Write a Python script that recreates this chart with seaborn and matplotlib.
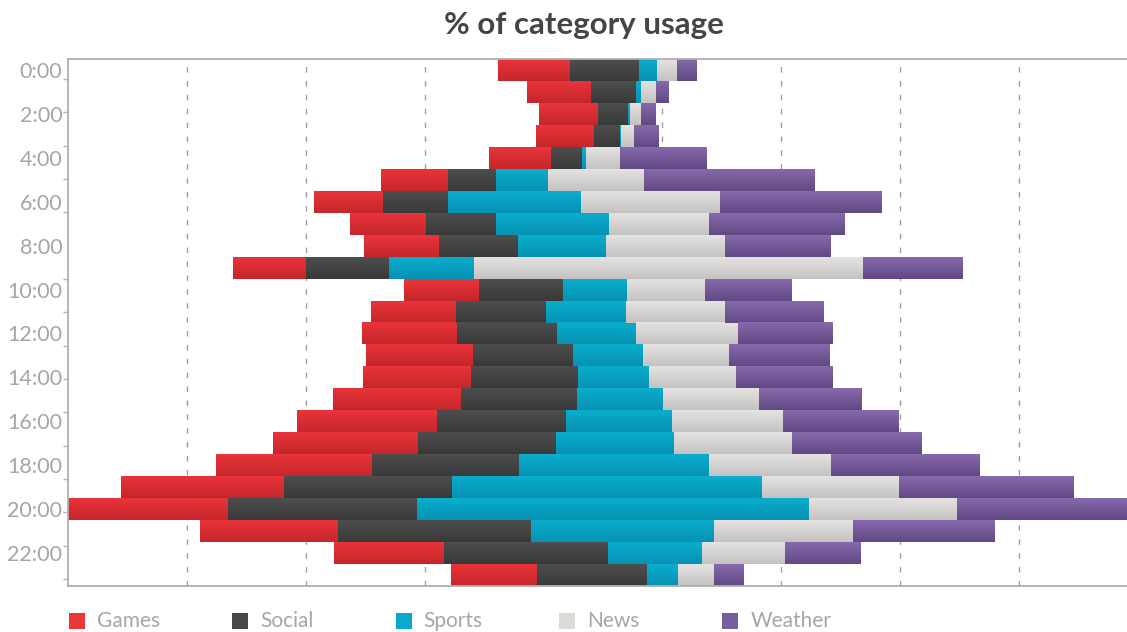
import numpy as np
import pandas as pd
import matplotlib
matplotlib.use("Agg")
import matplotlib.pyplot as plt
import seaborn as sns
from matplotlib.colors import LinearSegmentedColormap
from matplotlib.patches import Rectangle

# Share of each category's daily usage that falls in each hour (%)
hours = [f"{h}:00" for h in range(24)]
categories = ["Games", "Social", "Sports", "News", "Weather"]

games = [3.03, 2.72, 2.44, 2.43, 2.62, 2.84, 2.94, 3.20, 3.15, 3.08, 3.15, 3.57,
         4.00, 4.52, 4.55, 5.39, 5.89, 6.10, 6.59, 6.85, 6.73, 5.80, 4.63, 3.64]
social = [2.90, 1.86, 1.29, 1.11, 1.30, 2.00, 2.73, 2.94, 3.32, 3.49, 3.53, 3.78,
          4.17, 4.21, 4.49, 4.91, 5.39, 5.81, 6.19, 7.06, 7.96, 8.12, 6.89, 4.63]
sports = [0.76, 0.25, 0.09, 0.04, 0.17, 2.18, 5.56, 4.75, 3.71, 3.57, 2.70, 3.36,
          3.36, 2.94, 2.99, 3.58, 4.46, 4.95, 7.99, 13.05, 16.48, 7.69, 3.97, 1.31]
news = [0.88, 0.59, 0.47, 0.57, 1.43, 4.04, 5.88, 4.21, 5.01, 16.36, 3.27, 4.17,
        4.26, 3.62, 3.65, 4.08, 4.67, 4.97, 5.12, 5.75, 6.24, 5.88, 3.49, 1.51]
weather = [0.84, 0.54, 0.59, 1.04, 3.65, 7.16, 6.78, 5.72, 4.44, 4.17, 3.62, 4.15,
           3.99, 4.21, 4.04, 4.33, 4.84, 5.46, 6.24, 7.36, 7.14, 5.97, 3.18, 1.26]

tick_hours = hours[::2]

# Vertical gradient for each series: top shade -> bottom shade
top_colors = ["#e9343a", "#4d4e4e", "#0aadce", "#e4e3e1", "#8769ad"]
bottom_colors = ["#c4262c", "#393939", "#0792b1", "#c4c3c1", "#614982"]
legend_colors = ["#e8383c", "#484848", "#0aa8ca", "#dcdbd8", "#7a5ca0"]

df = pd.DataFrame({"hour": hours, "Games": games, "Social": social,
                   "Sports": sports, "News": news, "Weather": weather})
totals = df[categories].sum(axis=1)
span = totals.max()
# centre every stack on the middle of the axis
offset = (span - totals) / 2

sns.set_theme(style="white")
plt.rcParams["font.family"] = ["Lato", "DejaVu Sans"]

W, H = 1127, 632
fig = plt.figure(figsize=(W / 100, H / 100), dpi=100)
ax = fig.add_axes([68 / W, 1 - 586 / H, 1 - 68 / W, (586 - 59) / H])

left = offset.copy()
for cat, c_top, c_bot in zip(categories, top_colors, bottom_colors):
    sns.barplot(data=df, x=cat, y="hour", order=hours, orient="h",
                left=left.to_numpy(), width=1.0, color=c_top, saturation=1,
                linewidth=0, errorbar=None, ax=ax, zorder=2)
    left = left + df[cat]

# paint a vertical gradient on every bar
grad = np.linspace(0, 1, 64).reshape(-1, 1)
for container, c_top, c_bot in zip(ax.containers, top_colors, bottom_colors):
    cmap = LinearSegmentedColormap.from_list("g", [c_top, c_bot])
    for bar in container:
        x0, y0 = bar.get_x(), bar.get_y()
        w, h = bar.get_width(), bar.get_height()
        if w <= 0:
            continue
        ax.imshow(grad, extent=(x0, x0 + w, y0 + h, y0), origin="upper",
                  cmap=cmap, aspect="auto", interpolation="bilinear", zorder=2.5)

ax.set_xlim(0, span)
ax.set_ylim(len(hours) - 0.5, -0.5)
ax.set_xlabel("")
ax.set_ylabel("")

# dashed vertical guides every 5 %
ax.set_xticks(np.arange(5, span, 5))
ax.set_xticklabels([])
ax.xaxis.grid(True, linestyle=(0, (4, 6)), color="#a0a0a0", linewidth=1.0)
ax.yaxis.grid(False)
ax.set_axisbelow(True)
ax.tick_params(axis="x", length=0)

ax.set_yticks(range(0, 24, 2))
ax.set_yticklabels(tick_hours)
ax.tick_params(axis="y", which="major", length=0, pad=4, labelsize=15.5,
               labelcolor="#a6a6a6")
minor_pos = 0.41 + 1.518 * np.arange(16)
ax.set_yticks(minor_pos, minor=True)
ax.tick_params(axis="y", which="minor", length=3.5, width=1, color="#b4b4b4",
               direction="out", left=True)

for side in ("left", "bottom", "top"):
    ax.spines[side].set_visible(True)
    ax.spines[side].set_color("#b0b0b0")
    ax.spines[side].set_linewidth(1.3)
ax.spines["right"].set_visible(False)

fig.text(584 / W, 1 - 25 / H, "% of category usage", ha="center", va="center",
         fontsize=22.5, fontweight="bold", color="#454545")

# legend row
sq = 16
for i, (cat, col) in enumerate(zip(categories, legend_colors)):
    x = 69 + i * 163.3
    fig.add_artist(Rectangle((x / W, 1 - 629 / H), sq / W, sq / H,
                             transform=fig.transFigure, color=col, lw=0))
    fig.text((x + 28) / W, 1 - 621 / H, cat, ha="left", va="center",
             fontsize=15, color="#a6a6a6")

fig.savefig("out.png", dpi=100)
